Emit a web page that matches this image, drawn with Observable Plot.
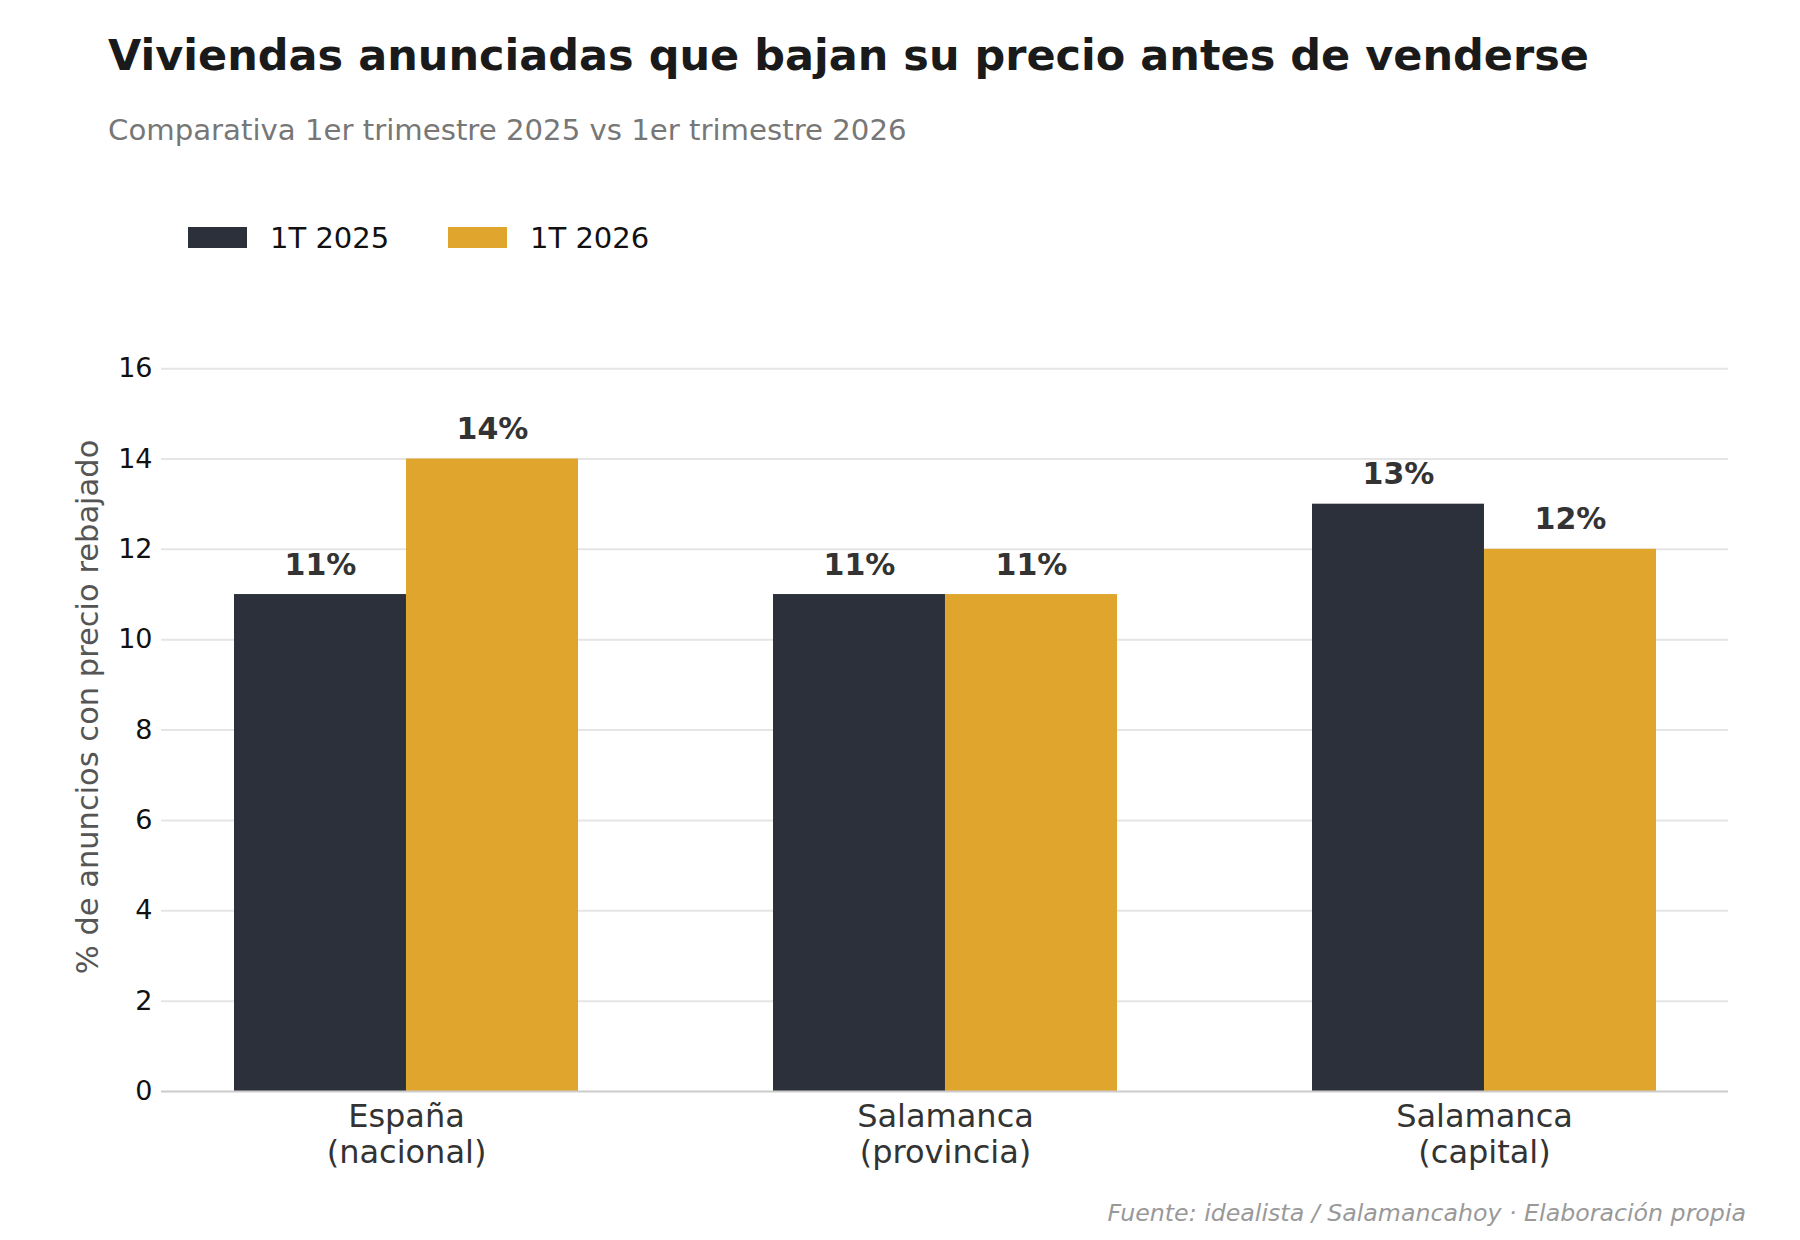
<!DOCTYPE html>
<html>
<head>
<meta charset="utf-8">
<script src="https://cdn.jsdelivr.net/npm/d3@7"></script>
<script src="https://cdn.jsdelivr.net/npm/@observablehq/plot@0.6"></script>
<style>
  html, body { margin: 0; padding: 0; background: #ffffff; }
  #page { position: relative; width: 1800px; height: 1240px; background: #ffffff; font-family: "DejaVu Sans", sans-serif; overflow: hidden; }
  .abs { position: absolute; white-space: nowrap; line-height: 1; }
  #title { left: 108px; top: 33.6px; font-size: 43px; font-weight: bold; color: #1a1a1a; }
  #subtitle { left: 108px; top: 116.3px; font-size: 29.2px; color: #777777; }
  .lg-sw { position: absolute; top: 227px; width: 59px; height: 21px; }
  .lg-tx { position: absolute; top: 223.5px; font-size: 29px; color: #111111; line-height: 1; white-space: nowrap; }
  #chart { position: absolute; left: 0; top: 280px; }
  #footer { right: 54px; top: 1202px; font-size: 23.7px; font-style: italic; color: #999999; }
</style>
</head>
<body>
<div id="page">
  <div id="title" class="abs"></div>
  <div id="subtitle" class="abs"></div>
  <div id="legend"></div>
  <div id="chart"></div>
  <div id="footer" class="abs"></div>
</div>
<script>
const titleText = "Viviendas anunciadas que bajan su precio antes de venderse";
const subtitleText = "Comparativa 1er trimestre 2025 vs 1er trimestre 2026";
const footerText = "Fuente: idealista / Salamancahoy · Elaboración propia";
const yLabel = "% de anuncios con precio rebajado";

const categories = ["España\n(nacional)", "Salamanca\n(provincia)", "Salamanca\n(capital)"];
const series = ["1T 2025", "1T 2026"];
const values2025 = [11, 11, 13];
const values2026 = [14, 11, 12];
const yTicks = [0, 2, 4, 6, 8, 10, 12, 14, 16];
const colors = ["#2c303b", "#e0a52d"];

document.getElementById("title").textContent = titleText;
document.getElementById("subtitle").textContent = subtitleText;
document.getElementById("footer").textContent = footerText;

const legend = document.getElementById("legend");
const legendLeft = [188, 448];
series.forEach((s, i) => {
  const sw = document.createElement("div");
  sw.className = "lg-sw";
  sw.style.left = legendLeft[i] + "px";
  sw.style.background = colors[i];
  const tx = document.createElement("div");
  tx.className = "lg-tx";
  tx.style.left = (legendLeft[i] + 82) + "px";
  tx.textContent = s;
  legend.appendChild(sw);
  legend.appendChild(tx);
});

const rows2025 = categories.map((c, i) => ({category: c, series: series[0], value: values2025[i]}));
const rows2026 = categories.map((c, i) => ({category: c, series: series[1], value: values2026[i]}));

const W = 1800, H = 900, ML = 161, MR = 72, MT = 52, MB = 89;
const PI = 0.3625, PO = 0.133;
const bw = d3.scaleBand().domain(categories).range([ML, W - MR]).paddingInner(PI).paddingOuter(PO).bandwidth();

const chart = Plot.plot({
  width: W,
  height: H,
  marginLeft: ML,
  marginRight: MR,
  marginTop: MT,
  marginBottom: MB,
  style: {fontFamily: "DejaVu Sans", background: "white", overflow: "visible"},
  x: {domain: categories, paddingInner: PI, paddingOuter: PO, align: 0.5, axis: null},
  y: {domain: [0, 16.8], axis: null},
  marks: [
    Plot.ruleY(yTicks.filter(t => t > 0), {stroke: "#e5e5e5", strokeWidth: 2}),
    Plot.barY(rows2025, {x: "category", y: "value", fill: colors[0], insetRight: bw / 2}),
    Plot.barY(rows2026, {x: "category", y: "value", fill: colors[1], insetLeft: bw / 2}),
    Plot.ruleY([0], {stroke: "#cccccc", strokeWidth: 2}),
    Plot.axisY(yTicks, {tickSize: 0, tickPadding: 9, fontSize: 27, fill: "#111111", label: null}),
    Plot.axisX({tickSize: 0, tickPadding: 10, fontSize: 32, fill: "#333333", label: null, lineHeight: 1.12}),
    Plot.text(rows2025, {x: "category", y: "value", text: d => d.value + "%", dx: -bw / 4, dy: -20, lineAnchor: "bottom", fontSize: 30, fontWeight: "bold", fill: "#333333"}),
    Plot.text(rows2026, {x: "category", y: "value", text: d => d.value + "%", dx: bw / 4, dy: -20, lineAnchor: "bottom", fontSize: 30, fontWeight: "bold", fill: "#333333"}),
    Plot.text([yLabel], {text: d => d, frameAnchor: "left", textAnchor: "middle", rotate: -90, dx: -64, dy: -5, lineAnchor: "bottom", fontSize: 30.5, fill: "#555555"})
  ]
});
document.getElementById("chart").appendChild(chart);
</script>
</body>
</html>
